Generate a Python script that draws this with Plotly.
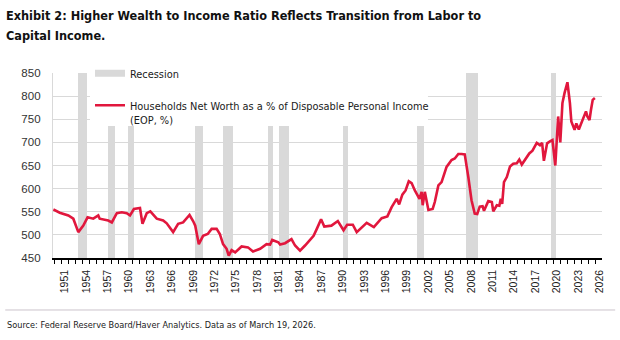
import plotly.graph_objects as go

# ---- data ----
years = [1949.9, 1950.8, 1952.0, 1952.7, 1953.4, 1954.1, 1954.7, 1955.5, 1956.2, 1956.4,
         1957.6, 1958.1, 1958.8, 1959.5, 1960.2, 1960.65, 1961.2, 1962.05, 1962.4, 1963.0,
         1963.5, 1964.4, 1965.3, 1965.8, 1966.7, 1967.4, 1968.1, 1969.0, 1969.5, 1969.8,
         1970.3, 1970.9, 1971.55, 1972.1, 1972.8, 1973.25, 1973.7, 1974.2, 1974.5, 1974.9,
         1975.4, 1976.3, 1977.2, 1977.9, 1978.9, 1979.8, 1980.3, 1980.6, 1981.45, 1981.7,
         1982.4, 1983.3, 1983.8, 1984.5, 1985.2, 1985.9, 1986.4, 1986.85, 1987.45, 1987.9,
         1988.9, 1989.8, 1990.6, 1991.1, 1991.9, 1992.45, 1993.15, 1993.85, 1994.85, 1995.95,
         1996.75, 1997.35, 1998.05, 1998.4, 1998.85, 1999.3, 1999.75, 2000.15, 2000.6, 2001.25,
         2001.55, 2001.7, 2002.0, 2002.5, 2003.1, 2003.4, 2003.9, 2004.35, 2005.05, 2005.75,
         2006.2, 2006.7, 2007.15, 2007.6, 2008.1, 2008.55, 2009.0, 2009.35, 2009.7, 2010.1,
         2010.3, 2010.9, 2011.4, 2011.6, 2012.1, 2012.45, 2012.65, 2012.85, 2013.1, 2013.5,
         2013.95, 2014.4, 2014.9, 2015.25, 2015.6, 2016.2, 2016.65, 2017.1, 2017.7, 2018.15,
         2018.45, 2018.7, 2019.15, 2019.55, 2019.9, 2020.3, 2020.7, 2021.0, 2021.3, 2021.6,
         2022.0, 2022.35, 2022.55, 2023.0, 2023.25, 2023.6, 2024.1, 2024.6, 2024.8, 2025.1,
         2025.3, 2025.55, 2025.85]
net_worth_pct = [555, 548, 542, 535, 506, 520, 538, 535, 542, 535,
                 531, 527, 547, 549, 547, 542, 556, 558, 524, 547,
                 551, 535, 531, 525, 506, 524, 527, 543, 530, 520,
                 480, 498, 502, 513, 513, 502, 480, 470, 455, 467,
                 462, 475, 473, 464, 470, 480, 479, 489, 484, 479,
                 482, 491, 477, 466, 477, 488, 498, 513, 534, 518,
                 520, 530, 510, 522, 522, 506, 517, 526, 517, 536,
                 540, 560, 578, 566, 587, 596, 616, 612, 596, 578,
                 593, 564, 593, 554, 556, 571, 607, 614, 647, 662,
                 665, 675, 675, 674, 625, 575, 546, 545, 561, 562,
                 552, 573, 571, 551, 564, 563, 578, 567, 614, 625,
                 648, 654, 655, 663, 652, 665, 676, 682, 699, 694,
                 699, 660, 698, 702, 705, 650, 756, 700, 785, 807,
                 830, 785, 745, 727, 741, 728, 748, 767, 756, 748,
                 770, 792, 796]

rec_start = [1953.35, 1957.55, 1960.33, 1969.77, 1973.73, 1980.05, 1981.5, 1990.57, 2000.94, 2007.73, 2019.65]
rec_end = [1954.6, 1958.55, 1961.25, 1970.93, 1975.14, 1980.75, 1982.9, 1991.27, 2001.92, 2009.41, 2020.4]

tick_years = list(range(1951, 2027, 3))
tick_labels = [str(y) for y in tick_years]
y_ticks = [450, 500, 550, 600, 650, 700, 750, 800, 850]

title_lines = ["Exhibit 2: Higher Wealth to Income Ratio Reflects Transition from Labor to",
               "Capital Income."]
source_text = "Source: Federal Reserve Board/Haver Analytics. Data as of March 19, 2026."

RED = "#e1173d"
GRAY = "#d9d9d9"
TXT = "#1a1a1a"
NARROW = "DejaVu Sans Condensed, Roboto Condensed, Roboto"

fig = go.Figure()

# recession bars
fig.add_trace(go.Bar(
    x=[(s + e) / 2 for s, e in zip(rec_start, rec_end)],
    width=[e - s for s, e in zip(rec_start, rec_end)],
    y=[y_ticks[-1] - y_ticks[0]] * len(rec_start),
    base=y_ticks[0],
    marker=dict(color=GRAY, line=dict(width=0)),
    showlegend=False, hoverinfo="skip",
))
# legend entry for recession
fig.add_trace(go.Scatter(
    x=[None], y=[None], mode="lines", name="Recession",
    line=dict(color=GRAY, width=7), legendgroup="a",
))
fig.add_trace(go.Scatter(
    x=years, y=net_worth_pct, mode="lines",
    name="Households Net Worth as a % of Disposable Personal Income<br>(EOP, %)",
    line=dict(color=RED, width=2.6), legendgroup="b",
))

fig.update_layout(
    width=620, height=340,
    margin=dict(l=53, r=18, t=73, b=82),
    paper_bgcolor="white", plot_bgcolor="white",
    bargap=0, barmode="overlay",
    font=dict(family=NARROW, color=TXT, size=12),
    showlegend=True,
    legend=dict(
        x=0.0674, xanchor="left", y=1.072, yanchor="top",
        bgcolor="rgba(0,0,0,0)", borderwidth=0,
        font=dict(family=NARROW, size=10.9, color=TXT),
        valign="top", tracegroupgap=13,
        itemwidth=30,
    ),
    xaxis=dict(
        range=[1949.85, 2026.85],
        tickmode="array", tickvals=[y + 0.5 for y in tick_years], ticktext=tick_labels,
        tickangle=-90, ticks="", ticklabelstandoff=6,
        tickfont=dict(family="Liberation Sans", size=10.5, color=TXT),
        showgrid=False, zeroline=False,
        showline=True, linecolor="#000000", linewidth=1.5,
        minor=dict(tickmode="array", tickvals=list(range(1950, 2028)),
                   ticks="outside", ticklen=4, tickwidth=1, tickcolor="#000000", showgrid=False),
    ),
    yaxis=dict(
        range=[450, 850], tickmode="array", tickvals=y_ticks,
        ticks="", ticklabelstandoff=9,
        tickfont=dict(family="Liberation Sans", size=11.5, color="#333333"),
        showgrid=True, gridcolor=GRAY, gridwidth=1.3,
        zeroline=False, showline=True, linecolor=GRAY, linewidth=1.3,
    ),
    shapes=[
        # white legend backdrop
        dict(type="rect", xref="paper", yref="paper", layer="above",
             x0=0.0674, x1=0.683, y0=0.7135, y1=1.02,
             fillcolor="white", line=dict(width=0)),
        dict(type="line", xref="paper", yref="paper",
             x0=-0.087, x1=1.024, y0=-0.281, y1=-0.281,
             line=dict(color="#cbc3cb", width=1)),
    ],
    annotations=[
        dict(text="<b>" + title_lines[0] + "</b>",
             xref="paper", yref="paper", x=-0.089, y=1.3135, xanchor="left", yanchor="middle",
             align="left", showarrow=False,
             font=dict(family=NARROW, size=12.6, color="#111111")),
        dict(text="<b>" + title_lines[1] + "</b>",
             xref="paper", yref="paper", x=-0.089, y=1.205, xanchor="left", yanchor="middle",
             align="left", showarrow=False,
             font=dict(family=NARROW, size=12.6, color="#111111")),
        dict(text=source_text,
             xref="paper", yref="paper", x=-0.087, y=-0.362, xanchor="left", yanchor="middle",
             align="left", showarrow=False,
             font=dict(family=NARROW, size=9.1, color=TXT)),
    ],
)

fig.write_html("out.html")
